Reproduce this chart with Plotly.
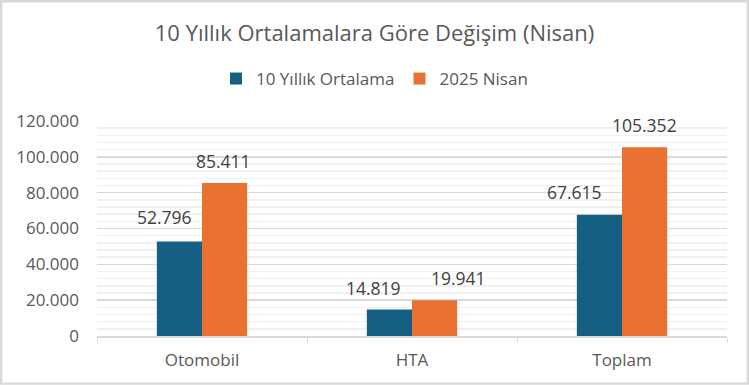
import plotly.graph_objects as go

categories = ["Otomobil", "HTA", "Toplam"]
series_names = ["10 Yıllık Ortalama", "2025 Nisan"]
avg_10y = [52796, 14819, 67615]
april_2025 = [85411, 19941, 105352]
title_text = "10 Yıllık Ortalamalara Göre Değişim (Nisan)"
y_ticks = [0, 20000, 40000, 60000, 80000, 100000, 120000]

# label placement tweaks (pixels) per series, per category: (dx, extra gap)
label_dx = [[-15, -16, -25], [-1, 24, 0]]
label_gap = [[16, 13.3, 15], [13.7, 14, 14.6]]

colors = ["#156082", "#E97132"]
FONT = "Open Sans"
W, H = 749, 385
L, R, T, B = 97, 22, 121, 49

fig = go.Figure()
for name, vals, col in zip(series_names, [avg_10y, april_2025], colors):
    fig.add_trace(go.Bar(
        x=categories, y=vals, name=name, marker_color=col,
        marker_line_width=0, hoverinfo="skip",
    ))

# data labels
ann = []
offsets = [-22.5, 22.5]
for si, (vals, dx) in enumerate(zip([avg_10y, april_2025], offsets)):
    for ci, (c, v) in enumerate(zip(categories, vals)):
        ann.append(dict(
            x=c, y=v, xref="x", yref="y", text=f"{v:,}".replace(",", "."),
            showarrow=False, xshift=dx + label_dx[si][ci],
            yshift=label_gap[si][ci] - 6, yanchor="bottom",
            font=dict(family=FONT, size=17.5, color="#404040"),
        ))

pw = W - L - R
ph = H - T - B
def px2x(px):
    return (px - L) / pw
def py2y(py):
    return (H - B - py) / ph

fig.update_layout(
    width=W, height=H,
    margin=dict(l=L, r=R, t=T, b=B),
    paper_bgcolor="white", plot_bgcolor="white",
    separators=",.",
    barmode="group", bargap=0.57, bargroupgap=0,
    title=dict(text=title_text, x=0.5, xref="container", xanchor="center",
               y=1 - 33 / H, yref="container", yanchor="middle",
               font=dict(family=FONT, size=22, color="#595959")),
    legend=dict(orientation="h", x=0.5, xref="container", xanchor="center",
                y=1 - 79 / H, yref="container", yanchor="middle",
                font=dict(family=FONT, size=17, color="#595959"),
                itemclick=False, traceorder="normal"),
    annotations=ann,
    shapes=[dict(type="rect", xref="paper", yref="paper",
                 x0=px2x(1.2), x1=px2x(747.8), y0=py2y(383.6), y1=py2y(1.2),
                 line=dict(color="#d9d9d9", width=2.4), layer="above")],
    font=dict(family=FONT, color="#595959"),
)
fig.update_xaxes(
    type="category", showgrid=False, showline=True, linecolor="#d9d9d9", linewidth=1.5,
    ticks="outside", tickson="boundaries", ticklen=5, tickcolor="#d9d9d9",
    tickfont=dict(family=FONT, size=17, color="#595959"), ticklabelstandoff=8,
)
fig.update_yaxes(
    range=[0, 120000], tickvals=y_ticks, tickformat=",d",
    showgrid=True, gridcolor="#d9d9d9", gridwidth=1.5, zeroline=False,
    minor=dict(dtick=4000, tick0=0, showgrid=True, gridcolor="#f0f0f0", gridwidth=1.5),
    tickfont=dict(family=FONT, size=17, color="#595959"), ticks="", ticklabelstandoff=17,
)
fig.write_html(
    "out.html",
    config={"displayModeBar": False, "staticPlot": True},
    post_script="document.body.style.margin='0';document.body.style.overflow='hidden';",
)
